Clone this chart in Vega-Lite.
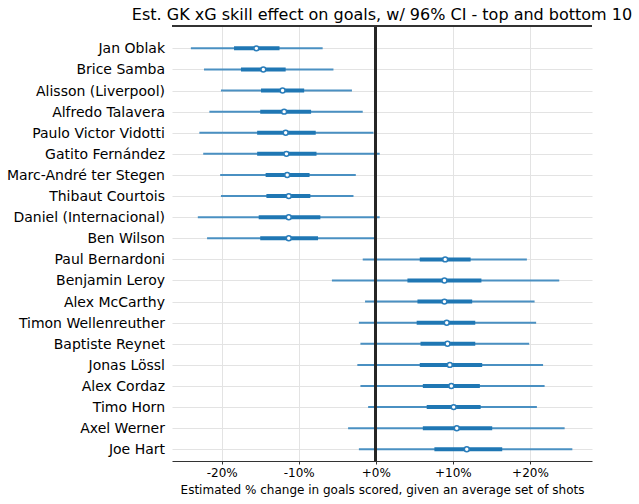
{
  "$schema": "https://vega.github.io/schema/vega-lite/v6.json",
  "autosize": {"type": "none"},
  "padding": {"left": 172, "top": 26, "right": 47, "bottom": 43},
  "width": 420,
  "height": 435,
  "config": {
    "font": "DejaVu Sans",
    "view": {"stroke": null},
    "axis": {"labelFont": "DejaVu Sans", "titleFont": "DejaVu Sans", "labelColor": "black", "titleColor": "black", "gridColor": "#e3e3e3", "gridWidth": 1}
  },
  "title": {"text": "Est. GK xG skill effect on goals, w/ 96% CI - top and bottom 10", "fontSize": 16, "fontWeight": "normal", "font": "DejaVu Sans", "color": "black", "anchor": "middle", "frame": "group", "offset": 2},
  "data": {"values": [
    {"name": "Jan Oblak", "rank": 0, "lo96": -24.0, "hi96": -6.9, "lo50": -18.4, "hi50": -12.5, "est": -15.5},
    {"name": "Brice Samba", "rank": 1, "lo96": -22.3, "hi96": -5.5, "lo50": -17.5, "hi50": -11.7, "est": -14.6},
    {"name": "Alisson (Liverpool)", "rank": 2, "lo96": -20.1, "hi96": -3.1, "lo50": -14.9, "hi50": -9.3, "est": -12.1},
    {"name": "Alfredo Talavera", "rank": 3, "lo96": -21.6, "hi96": -1.7, "lo50": -15.0, "hi50": -8.4, "est": -11.9},
    {"name": "Paulo Victor Vidotti", "rank": 4, "lo96": -22.9, "hi96": -0.3, "lo50": -15.4, "hi50": -7.8, "est": -11.7},
    {"name": "Gatito Fernández", "rank": 5, "lo96": -22.4, "hi96": 0.5, "lo50": -15.4, "hi50": -7.7, "est": -11.6},
    {"name": "Marc-André ter Stegen", "rank": 6, "lo96": -20.2, "hi96": -2.6, "lo50": -14.3, "hi50": -8.6, "est": -11.5},
    {"name": "Thibaut Courtois", "rank": 7, "lo96": -20.1, "hi96": -2.9, "lo50": -14.2, "hi50": -8.5, "est": -11.3},
    {"name": "Daniel (Internacional)", "rank": 8, "lo96": -23.1, "hi96": 0.5, "lo50": -15.2, "hi50": -7.2, "est": -11.3},
    {"name": "Ben Wilson", "rank": 9, "lo96": -21.9, "hi96": 0.0, "lo50": -15.0, "hi50": -7.5, "est": -11.3},
    {"name": "Paul Bernardoni", "rank": 10, "lo96": -1.7, "hi96": 19.6, "lo50": 5.7, "hi50": 12.3, "est": 9.0},
    {"name": "Benjamin Leroy", "rank": 11, "lo96": -5.7, "hi96": 23.8, "lo50": 4.1, "hi50": 13.7, "est": 8.9},
    {"name": "Alex McCarthy", "rank": 12, "lo96": -1.4, "hi96": 20.6, "lo50": 5.4, "hi50": 12.5, "est": 8.9},
    {"name": "Timon Wellenreuther", "rank": 13, "lo96": -2.2, "hi96": 20.8, "lo50": 5.3, "hi50": 12.9, "est": 9.2},
    {"name": "Baptiste Reynet", "rank": 14, "lo96": -2.0, "hi96": 19.9, "lo50": 5.8, "hi50": 12.9, "est": 9.3},
    {"name": "Jonas Lössl", "rank": 15, "lo96": -2.4, "hi96": 21.7, "lo50": 5.7, "hi50": 13.8, "est": 9.6},
    {"name": "Alex Cordaz", "rank": 16, "lo96": -2.0, "hi96": 21.9, "lo50": 6.1, "hi50": 13.5, "est": 9.8},
    {"name": "Timo Horn", "rank": 17, "lo96": -1.0, "hi96": 20.9, "lo50": 6.6, "hi50": 13.6, "est": 10.1},
    {"name": "Axel Werner", "rank": 18, "lo96": -3.6, "hi96": 24.5, "lo50": 6.1, "hi50": 15.1, "est": 10.5},
    {"name": "Joe Hart", "rank": 19, "lo96": -2.2, "hi96": 25.5, "lo50": 7.6, "hi50": 16.4, "est": 11.8}
  ]},
  "encoding": {
    "y": {"field": "rank", "type": "quantitative", "scale": {"domain": [-1.06, 19.555], "reverse": true, "nice": false, "zero": false},
      "axis": {"values": [0,1,2,3,4,5,6,7,8,9,10,11,12,13,14,15,16,17,18,19], "labels": false, "ticks": false, "domain": false, "grid": true, "title": null}}
  },
  "layer": [
    {
      "mark": {"type": "rule", "color": "#4a90c2", "strokeWidth": 2},
      "encoding": {
        "x": {"field": "lo96", "type": "quantitative", "scale": {"domain": [-26.45, 28.05], "nice": false, "zero": false},
          "axis": {"values": [-20, -10, 0, 10, 20], "grid": true, "labelExpr": "(datum.value >= 0 ? '+' : '') + datum.value + '%'", "labelFontSize": 12, "labelPadding": 3, "tickSize": 3, "tickColor": "#333", "domainColor": "#333", "domainWidth": 1, "title": "Estimated % change in goals scored, given an average set of shots", "titleFontSize": 12, "titleFontWeight": "normal", "titlePadding": 6}},
        "x2": {"field": "hi96"}
      }
    },
    {
      "mark": {"type": "rule", "color": "#1f77b4", "strokeWidth": 4},
      "encoding": {
        "x": {"field": "lo50", "type": "quantitative"},
        "x2": {"field": "hi50"}
      }
    },
    {
      "mark": {"type": "rule", "color": "#262626", "strokeWidth": 2},
      "encoding": {"x": {"datum": 0, "type": "quantitative"}, "y": null}
    },
    {
      "mark": {"type": "point", "filled": true, "fill": "white", "stroke": "#2a7dba", "strokeWidth": 1.5, "size": 24, "opacity": 1},
      "encoding": {"x": {"field": "est", "type": "quantitative"}}
    },
    {
      "mark": {"type": "text", "align": "right", "baseline": "middle", "dx": -7, "dy": 1, "fontSize": 14, "font": "DejaVu Sans", "color": "black"},
      "encoding": {"x": {"datum": -26.45, "type": "quantitative"}, "text": {"field": "name"}}
    },
    {
      "mark": {"type": "rule", "color": "#333", "strokeWidth": 1},
      "encoding": {"y": {"datum": -1.06, "type": "quantitative"}}
    }
  ]
}
